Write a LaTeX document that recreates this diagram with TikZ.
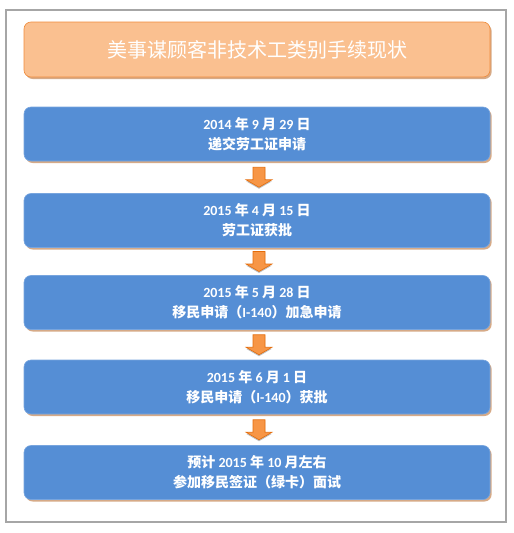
\documentclass[tikz,border=0pt]{standalone}
\usepackage{fontspec}
\setmainfont{Carlito}
\newfontfamily\cjk{Noto Sans CJK SC}
\usetikzlibrary{calc,shadows}
\definecolor{boxblue}{RGB}{85,142,213}
\definecolor{boxedge}{RGB}{120,165,222}
\definecolor{titlefill}{RGB}{250,192,144}
\definecolor{titleedge}{RGB}{240,140,60}
\definecolor{arrowfill}{RGB}{247,150,70}
\definecolor{arrowedge}{RGB}{228,108,10}
\definecolor{shadowtan}{RGB}{214,170,135}
\definecolor{framegray}{RGB}{166,166,166}
\newcommand\zh[1]{{\cjk #1}}
\begin{document}
\begin{tikzpicture}[x=1pt,y=-1pt,
        box/.style={rounded corners=7pt,minimum width=466pt,minimum height=54pt,
            fill=boxblue,draw=boxedge,line width=0.6pt,text=white,align=center,
            font=\bfseries\fontsize{14}{20}\selectfont,
            drop shadow={shadow xshift=1.6pt,shadow yshift=-2pt,fill=shadowtan,opacity=1}},
        headbox/.style={box,fill=titlefill,draw=titleedge,minimum height=55pt,
            font=\cjk\fontsize{20}{24}\selectfont},
        downarrow/.style={fill=arrowfill,draw=arrowedge,line width=0.6pt,line join=miter,
            drop shadow={shadow xshift=0pt,shadow yshift=-1.5pt,fill=black!25,opacity=1}}]
\useasboundingbox (0,0) rectangle (514,533);
\draw[framegray,line width=2pt] (6,10) rectangle (506,522);

\node[headbox] (T) at (257,49.5) {美事谋顾客非技术工类别手续现状};

\node[box] (S1) at (257,134) {2014 \zh{年} 9 \zh{月} 29 \zh{日}\\ \zh{递交劳工证申请}};
\node[box] (S2) at (257,220.5) {2015 \zh{年} 4 \zh{月} 15 \zh{日}\\ \zh{劳工证获批}};
\node[box] (S3) at (257,302.5) {2015 \zh{年} 5 \zh{月} 28 \zh{日}\\ \zh{移民申请（}I-140\zh{）加急申请}};
\node[box] (S4) at (257,387) {2015 \zh{年} 6 \zh{月} 1 \zh{日}\\ \zh{移民申请（}I-140\zh{）获批}};
\node[box] (S5) at (257,472.5) {\zh{预计} 2015 \zh{年} 10 \zh{月左右}\\ \zh{参加移民签证（绿卡）面试}};

% block arrows between the steps
\foreach \a/\b in {S1/S2,S2/S3,S3/S4,S4/S5}{
\coordinate (m) at ($(\a.south)!0.5!(\b.north)+(2,0)$);
\draw[downarrow] ($(m)+(-6,-10)$) -- ++(12,0) -- ++(0,12.5) -- ++(7,0)
    -- ($(m)+(0,10)$) -- ($(m)+(-13,2.5)$) -- ++(7,0) -- cycle;
}
\end{tikzpicture}
\end{document}
